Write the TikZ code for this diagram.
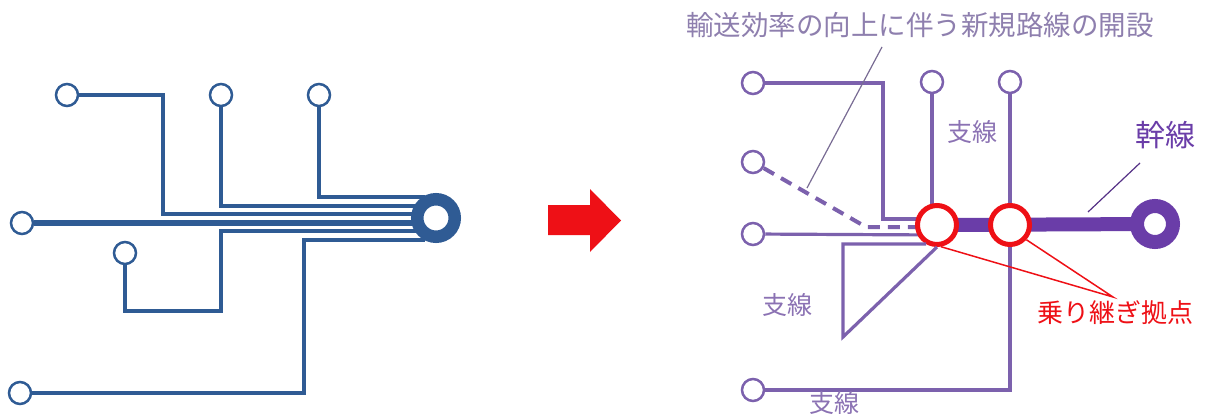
\documentclass[tikz,border=0pt]{standalone}
\usepackage{fontspec}
\newfontfamily\jp{Noto Sans CJK JP}
\definecolor{bl}{HTML}{2F5B94}
\definecolor{pl}{HTML}{7C61AD}
\definecolor{tr}{HTML}{6A3DA8}
\definecolor{ptxt}{HTML}{8B72B3}
\definecolor{ttl}{HTML}{8E7FAE}
\definecolor{rd}{HTML}{EE1016}
\begin{document}
\begin{tikzpicture}[x=1pt,y=-1pt,
  bst/.style={circle,draw=bl,fill=white,line width=2.5pt,minimum size=22pt,inner sep=0pt},
  pst/.style={circle,draw=pl,fill=white,line width=2.5pt,minimum size=22pt,inner sep=0pt},
  bline/.style={draw=bl,line width=3.5pt},
  pline/.style={draw=pl,line width=3.2pt},
  hub/.style={circle,draw=rd,fill=white,line width=5pt,minimum size=39pt,inner sep=0pt},
  lbl/.style={font=\jp\fontsize{25}{25}\selectfont,text=ptxt,inner sep=0pt},
  leader/.style={line width=1.2pt}]
\useasboundingbox (0,0) rectangle (1211,420);

% ---------- left diagram ----------
\node[bst] (b1) at (67,95) {};
\node[bst] (b2) at (221,95) {};
\node[bst] (b3) at (319,95) {};
\node[bst] (b4) at (22,223) {};
\node[bst] (b5) at (125,253) {};
\node[bst] (b6) at (20,393) {};
\coordinate (e1) at (425,214);
\coordinate (e2) at (425,206);
\coordinate (e3) at (425,197);
\coordinate (e4) at (425,223);
\coordinate (e5) at (425,231);
\coordinate (e6) at (425,240);
\draw[bline] (b1) -- (163,95) |- (e1);
\draw[bline] (b2) |- (e2);
\draw[bline] (b3) |- (e3);
\draw[bl,line width=5.5pt] (b4) -- (e4);
\draw[bline] (b5) |- (221,311) |- (e5);
\draw[bline] (b6) -| (304,240) -- (e6);
\node[circle,draw=bl,fill=white,line width=12.5pt,minimum size=37.5pt,inner sep=0pt] (bring) at (436,218) {};

% ---------- arrow ----------
\fill[rd] (548,205) -- (590,205) -- (590,189) -- (621,220.5) -- (590,252) -- (590,235) -- (548,235) -- cycle;

% ---------- right diagram ----------
\node[pst] (pA) at (753,83) {};
\node[pst] (pB) at (753,162) {};
\node[pst] (pC) at (753,234) {};
\node[pst] (pD) at (932,82) {};
\node[pst] (pE) at (1010,82) {};
\node[pst] (pF) at (753,390) {};
\coordinate (h1c) at (937,225);
\coordinate (h2c) at (1010,225);
\coordinate (prc) at (1155,224);

\draw[pline] (pA) -- (883,83) -- (883,219) -- (h1c |- 0,219);
\draw[pline] (pC) -- (h1c |- 0,235);
\draw[pline] (pD) -- (pD |- h1c);
\draw[pline] (pE) -- (h2c);
\draw[pline] (pF) -| (h2c);
\draw[draw=pl,line width=4pt,dash pattern=on 12pt off 8pt] (pB) -- (866,227) -- (918,227);
\draw[tr,line width=14pt] (h1c) -- (prc);

\node[hub] (h1) at (h1c) {};
\node[hub] (h2) at (h2c) {};
\coordinate (sq) at (843,244);
\draw[pline] (h1.-120) -- (sq) -- (843,337) -- (h1.south);
\node[circle,draw=tr,fill=white,line width=14pt,minimum size=36pt,inner sep=0pt] (pr) at (prc) {};

% labels
\node[lbl,font=\jp\fontsize{27.5}{27.5}\selectfont,text=ttl] (title) at (920,25) {輸送効率の向上に伴う新規路線の開設};
\node[lbl] (s1) at (972,132) {支線};
\node[lbl] (s2) at (787,305) {支線};
\node[lbl] (s3) at (834,403) {支線};
\node[lbl,font=\jp\fontsize{30}{30}\selectfont,text=tr] (kan) at (1165,135) {幹線};
\node[lbl,font=\jp\fontsize{26}{26}\selectfont,text=rd] (nori) at (1115,313) {乗り継ぎ拠点};

% leaders
\coordinate (tl1) at (882,47);
\coordinate (tl2) at (807,188);
\draw[leader,draw=ttl!85!black] (tl1) -- (tl2);
\coordinate (kl1) at (1140,163);
\coordinate (kl2) at (1088,212);
\draw[leader,draw=tr!80!black] (kl1) -- (kl2);
\coordinate (nl) at (1113,297);
\draw[rd,line width=1.5pt] (h1.-80) -- (nl) -- (h2.-42);
\end{tikzpicture}
\end{document}
